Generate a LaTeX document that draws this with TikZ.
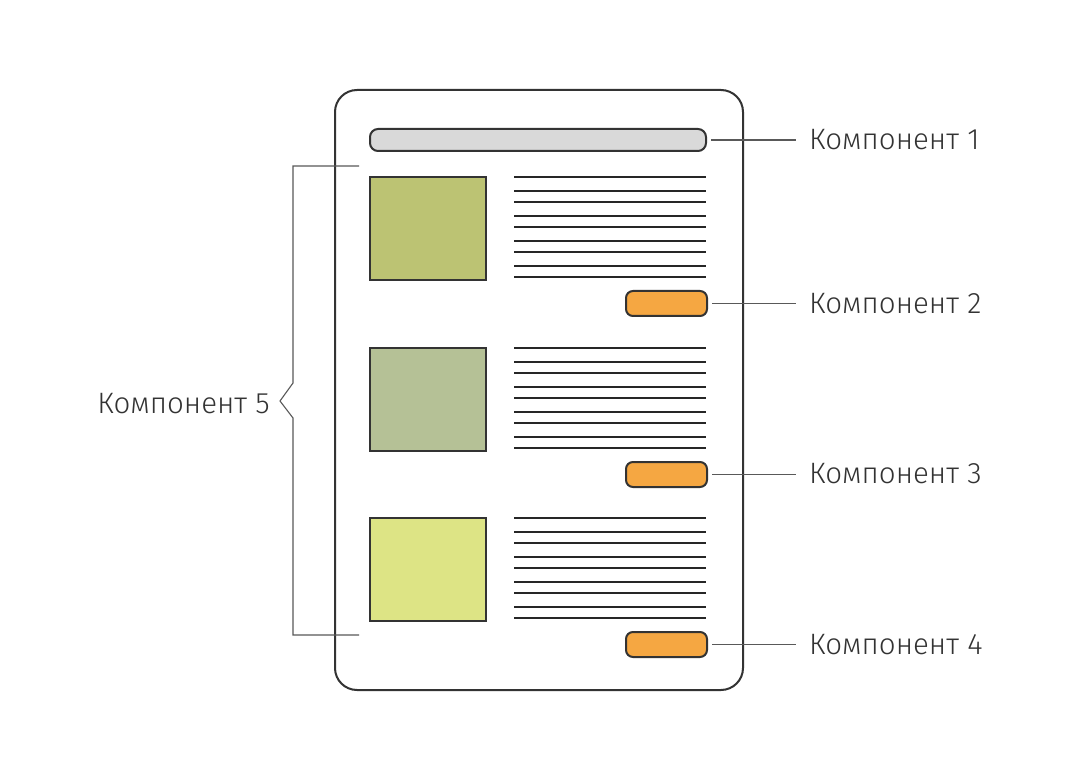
\documentclass[tikz,border=0pt]{standalone}
\usepackage{fontspec}
\setmainfont{Fira Sans Light}
\begin{document}
\begin{tikzpicture}[x=1pt,y=-1pt,
  frame/.style={draw=black!80, line width=2pt},
  img/.style={draw=black!80, line width=2pt, inner sep=0pt, anchor=north west, minimum width=116pt, minimum height=103pt},
  btn/.style={draw=black!80, line width=2pt, fill=btnorange, rounded corners=7pt, inner sep=0pt, anchor=north west, minimum width=81pt, minimum height=25pt},
  txtline/.style={draw=black!85, line width=1.8pt},
  conn/.style={draw=black!65, line width=1.1pt},
  lbl/.style={font=\fontsize{29.5}{36}\selectfont, text=black!80, inner sep=0pt}
]
\definecolor{btnorange}{HTML}{F5A742}
\definecolor{imgA}{HTML}{BCC373}
\definecolor{imgB}{HTML}{B5C196}
\definecolor{imgC}{HTML}{DDE485}
\definecolor{barfill}{HTML}{D9D9D9}
\useasboundingbox[fill=white] (0,0) rectangle (1080,778);
% page
\node[frame, rounded corners=22pt, inner sep=0pt, anchor=north west, minimum width=408pt, minimum height=600pt] (page) at (334,89) {};
% header bar
\node[frame, fill=barfill, rounded corners=8pt, inner sep=0pt, anchor=north west, minimum width=336pt, minimum height=22pt] (bar) at (369,128) {};
% images
\node[img, fill=imgA] (img1) at (369,176) {};
\node[img, fill=imgB] (img2) at (369,347) {};
\node[img, fill=imgC] (img3) at (369,517) {};
% text lines
\foreach \t in {176,347,517}{
  \foreach \d in {1.3,15,26.3,40,51.3,64.7,76,89.7,101}{
    \draw[txtline] (514,\t+\d) -- (706,\t+\d);
  }
}
% buttons
\node[btn] (btn1) at (625,290) {};
\node[btn] (btn2) at (625,461) {};
\node[btn] (btn3) at (625,631) {};
% labels
\node[lbl, anchor=west] (l1) at (809,140) {Компонент 1};
\node[lbl, anchor=west] (l2) at (809,304) {Компонент 2};
\node[lbl, anchor=west] (l3) at (809,474) {Компонент 3};
\node[lbl, anchor=west] (l4) at (809,645) {Компонент 4};
\node[lbl, anchor=east] (l5) at (270,404) {Компонент 5};
% connectors
\draw[conn] ([xshift=4pt]bar.east) -- ([xshift=-13pt]bar.east -| l1.west);
\draw[conn] ([xshift=4pt]btn1.east) -- ([xshift=-13pt]btn1.east -| l2.west);
\draw[conn] ([xshift=4pt]btn2.east) -- ([xshift=-13pt]btn2.east -| l3.west);
\draw[conn] ([xshift=4pt]btn3.east) -- ([xshift=-13pt]btn3.east -| l4.west);
% bracket
\coordinate (bt) at (359,166);
\coordinate (bb) at (359,635);
\coordinate (tip) at ([xshift=10pt]l5.east);
\draw[conn] (bt) -- (293,166) -- (293,383) -- (tip |- 0,401) -- (293,418) -- (293,635) -- (bb);
\end{tikzpicture}
\end{document}
